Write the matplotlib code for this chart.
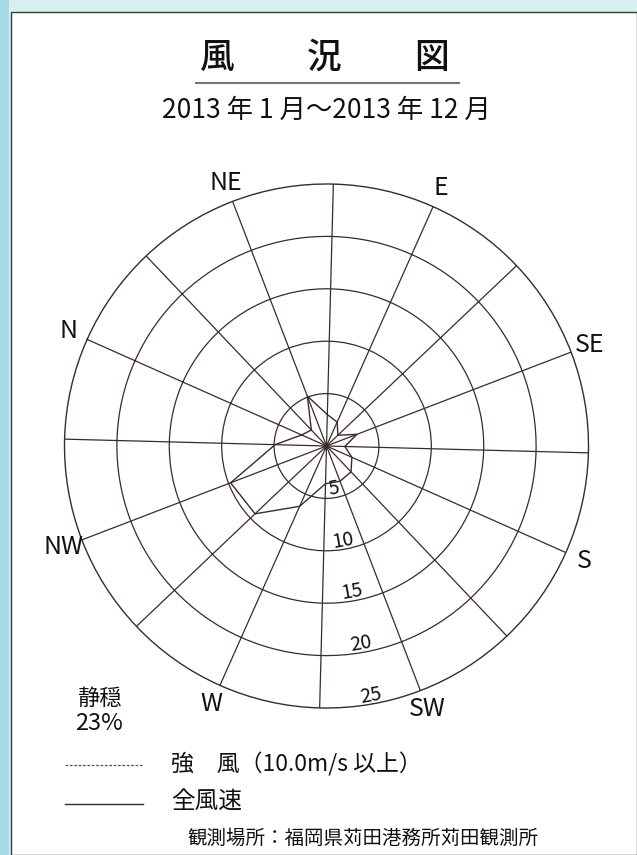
import numpy as np
import matplotlib
matplotlib.use("Agg")
import matplotlib.pyplot as plt
from matplotlib.patches import Rectangle
from matplotlib.lines import Line2D

# ---- data ----
directions = ["N", "NNE", "NE", "ENE", "E", "ESE", "SE", "SSE",
              "S", "SSW", "SW", "WSW", "W", "WNW", "NW", "NNW"]
all_wind = [2.6, 2.1, 5.1, 3.0, 2.5, 1.5, 3.1, 1.75,
            2.65, 3.4, 3.6, 3.6, 6.3, 9.4, 9.8, 4.9]
strong_wind = [0.2, 0.1, 0.3, 0.2, 0.1, 0.1, 0.2, 0.1,
               0.1, 0.2, 0.3, 0.3, 0.3, 0.4, 0.4, 0.2]
label_dirs = ["N", "NE", "E", "SE", "S", "SW", "W", "NW"]
ring_values = [5, 10, 15, 20, 25]
calm_pct = 23

title_chars = ["風", "況", "図"]
subtitle = "2013 年 1 月～2013 年 12 月"
legend_strong = "強　風（10.0m/s 以上）"
legend_all = "全風速"
location = "観測場所：福岡県苅田港務所苅田観測所"

W, H = 637, 855
fig = plt.figure(figsize=(W / 100, H / 100), dpi=100)
fig.patch.set_facecolor("#d7eff1")

def fx(px):
    return px / W

def fy(py):
    return 1 - py / H

# background strips / panel
fig.add_artist(Rectangle((0, 0), fx(9), 1, transform=fig.transFigure,
                         facecolor="#a6dbea", edgecolor="none", zorder=-3))
fig.add_artist(Rectangle((fx(11), 0), 1 - fx(11), fy(12), transform=fig.transFigure,
                         facecolor="white", edgecolor="#3a3a3a", lw=1.0, zorder=-2))

CJK = ["Noto Sans CJK JP", "DejaVu Sans"]
NARROW = ["Liberation Sans Narrow", "Noto Sans CJK JP", "DejaVu Sans"]
ink = "#111111"
line_col = "#3b2a2a"

# ---- polar axes ----
cx, cy, R = 326.5, 446, 262
ax = fig.add_axes([fx(cx - R), fy(cy + R), 2 * R / W, 2 * R / H], projection="polar")
ax.set_zorder(1)
ax.set_theta_zero_location("N", offset=66)
ax.set_theta_direction(-1)
ax.set_ylim(0, ring_values[-1])
ax.patch.set_alpha(0)

theta_deg = np.arange(len(directions)) * 22.5
theta = np.radians(theta_deg)
ax.set_thetagrids(theta_deg, labels=[""] * len(directions))
ax.set_rgrids(ring_values[:-1], labels=[""] * (len(ring_values) - 1))
ax.grid(True, color=line_col, lw=0.9)
ax.spines["polar"].set_color(line_col)
ax.spines["polar"].set_linewidth(1.0)
ax.tick_params(pad=0)

th_closed = np.append(theta, theta[0])
ax.plot(th_closed, np.append(all_wind, all_wind[0]), color=line_col, lw=1.0, zorder=5)
ax.plot(th_closed, np.append(strong_wind, strong_wind[0]), color=line_col, lw=0.9,
        ls=(0, (2, 1.5)), zorder=6)

# direction labels
for d in label_dirs:
    i = directions.index(d)
    ax.text(theta[i], 26.9, d, ha="center", va="center", fontsize=18,
            family=NARROW, color=ink, clip_on=False)

# ring labels
for v in ring_values:
    ax.text(np.radians(236), v - 0.85, str(v), ha="center", va="center",
            fontsize=14, family=NARROW, color=ink, rotation=10, clip_on=False)

# ---- titles ----
for ch, x in zip(title_chars, [217, 324, 432]):
    fig.text(fx(x), fy(58), ch, ha="center", va="center", fontsize=25,
             family=CJK, weight="medium", color=ink)
fig.add_artist(Line2D([fx(196), fx(459)], [fy(83), fy(83)], transform=fig.transFigure,
                      color="#807070", lw=1.5))
fig.text(fx(326), fy(110), subtitle, ha="center", va="center", fontsize=19,
         family=NARROW, color=ink)

# ---- calm ----
fig.text(fx(99), fy(698), "静穏", ha="center", va="center", fontsize=16, family=CJK, color=ink)
fig.text(fx(99), fy(723), f"{calm_pct}%", ha="center", va="center", fontsize=17,
         family=NARROW, color=ink)

# ---- legend ----
fig.add_artist(Line2D([fx(65), fx(143)], [fy(765), fy(765)], transform=fig.transFigure,
                      color="#555555", lw=0.9, ls=(0, (2.2, 1.3))))
fig.text(fx(171), fy(764), legend_strong, ha="left", va="center", fontsize=16.5,
         family=NARROW, color=ink)
fig.add_artist(Line2D([fx(65), fx(143)], [fy(804), fy(804)], transform=fig.transFigure,
                      color=line_col, lw=1.0))
fig.text(fx(171), fy(802), legend_all, ha="left", va="center", fontsize=17,
         family=CJK, color=ink)
fig.text(fx(363), fy(838), location, ha="center", va="center", fontsize=14,
         family=CJK, color=ink)

fig.savefig("out.png", dpi=100, facecolor=fig.get_facecolor())
